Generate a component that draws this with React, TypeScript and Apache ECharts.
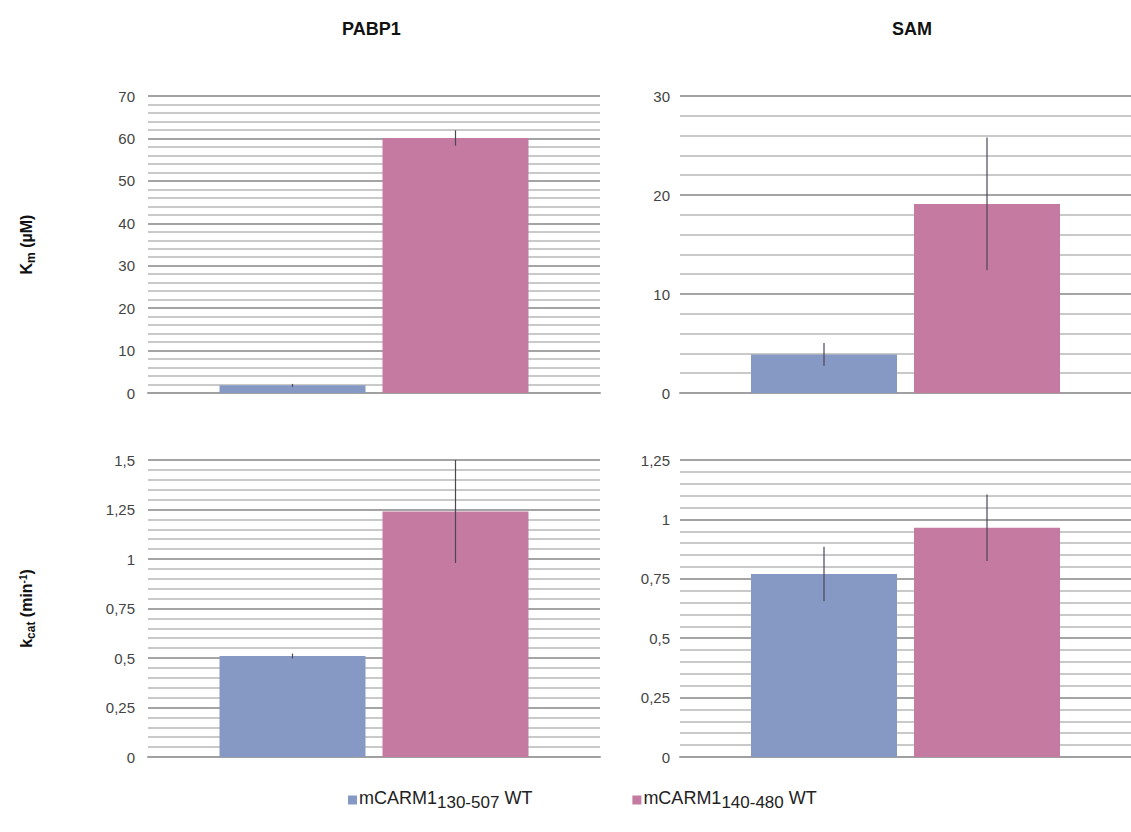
import React, { useEffect, useRef } from "react";
import * as echarts from "echarts";

const groups = ["mCARM1 130-507 WT", "mCARM1 140-480 WT"];
const panelTitles = ["PABP1", "SAM"];
const kmPABP1 = [1.8, 60.1];
const kmPABP1Err = [0.35, 1.8];
const kmSAM = [3.9, 19.1];
const kmSAMErr = [1.15, 6.7];
const kcatPABP1 = [0.51, 1.24];
const kcatPABP1Err = [0.012, 0.26];
const kcatSAM = [0.77, 0.965];
const kcatSAMErr = [0.115, 0.14];
const axisMax = [70, 30, 1.5, 1.25];
const axisInterval = [10, 10, 0.25, 0.25];

const COLORS = ["#8599c4", "#c57aa1"];
const BAR_W = 146;
const BAR_GAP = 17;
const FONT = "Liberation Sans, Arial, Helvetica, sans-serif";

export default function App() {
  const ref = useRef<HTMLDivElement>(null);
  useEffect(() => {
    if (!ref.current) return;
    const chart = echarts.init(ref.current, null, { renderer: "svg" });
    const panels = [
      { vals: kmPABP1, errs: kmPABP1Err },
      { vals: kmSAM, errs: kmSAMErr },
      { vals: kcatPABP1, errs: kcatPABP1Err },
      { vals: kcatSAM, errs: kcatSAMErr },
    ];
    const grids = [
      { left: 148, width: 452, top: 96, height: 297 },
      { left: 680, width: 464, top: 96, height: 297 },
      { left: 148, width: 452, top: 460, height: 297 },
      { left: 680, width: 464, top: 460, height: 297 },
    ];
    const richSub = {
      a: { fontSize: 16, fontWeight: "bold", fontFamily: FONT, color: "#111", lineHeight: 19, verticalAlign: "top" },
      s: { fontSize: 12, fontWeight: "bold", fontFamily: FONT, color: "#111", lineHeight: 12, verticalAlign: "bottom" },
      p: { fontSize: 10, fontWeight: "bold", fontFamily: FONT, color: "#111", lineHeight: 10, verticalAlign: "top" },
    };
    const axisNames = ["{a|K}{s|m}{a| (µM)}", "", "{a|k}{s|cat}{a| (min}{p|-1}{a|)}", ""];
    const xAxis = grids.map((_, i) => ({
      type: "category",
      gridIndex: i,
      data: ["all"],
      axisLabel: { show: false },
      axisTick: { show: false },
      axisLine: { show: true, lineStyle: { color: "#a0a0a0", width: 2 } },
    }));
    const yAxis = grids.map((_, i) => ({
      type: "value",
      gridIndex: i,
      min: 0,
      max: axisMax[i],
      interval: axisInterval[i],
      name: axisNames[i],
      nameLocation: "middle",
      nameRotate: 90,
      nameGap: 111,
      nameTextStyle: { rich: richSub },
      axisLine: { show: false },
      axisTick: { show: false },
      axisLabel: {
        color: "#444",
        fontSize: 15,
        fontFamily: FONT,
        margin: i % 2 === 0 ? 13 : 10,
        formatter: (v: number) => String(v).replace(".", ","),
      },
      splitLine: { show: true, lineStyle: { color: "#a4a4a4", width: 2 } },
      minorTick: { show: false, splitNumber: 5 },
      minorSplitLine: { show: true, lineStyle: { color: "#c9c9c9", width: 2 } },
    }));
    const series: any[] = [];
    panels.forEach((p, i) => {
      groups.forEach((g, k) => {
        series.push({
          type: "bar",
          name: g,
          xAxisIndex: i,
          yAxisIndex: i,
          data: [p.vals[k]],
          barWidth: BAR_W,
          barGap: (BAR_GAP / BAR_W) * 100 + "%",
          itemStyle: { color: COLORS[k] },
        });
      });
      series.push({
        type: "custom",
        name: "err" + i,
        xAxisIndex: i,
        yAxisIndex: i,
        z: 5,
        data: groups.map((_, k) => [0, p.vals[k] - p.errs[k], p.vals[k] + p.errs[k], k]),
        encode: { x: 0, y: [1, 2] },
        renderItem: (params: any, api: any) => {
          const side = api.value(3) === 0 ? -1 : 1;
          const lo = api.coord([0, api.value(1)]);
          const hi = api.coord([0, api.value(2)]);
          const x = lo[0] + side * (BAR_W + BAR_GAP) / 2;
          return {
            type: "line",
            shape: { x1: x, y1: lo[1], x2: x, y2: hi[1] },
            style: { stroke: "#4d4558", lineWidth: 1.2 },
          };
        },
      });
    });

    chart.setOption({
      animation: false,
      backgroundColor: "#ffffff",
      grid: grids,
      xAxis,
      yAxis,
      series,
      legend: {
        data: groups,
        left: 348,
        top: 789,
        padding: 0,
        itemWidth: 9,
        itemHeight: 9,
        itemGap: 100,
        icon: "rect",
        formatter: (name: string) => {
          const parts = name.split(" ");
          return "{a|" + parts[0] + "}{s|" + parts[1] + "}{a| " + parts[2] + "}";
        },
        textStyle: {
          padding: [0, 0, 0, -3],
          rich: {
            a: { fontSize: 18, fontFamily: FONT, color: "#222", lineHeight: 22, verticalAlign: "top" },
            s: { fontSize: 17, fontFamily: FONT, color: "#222", lineHeight: 17, verticalAlign: "bottom" },
          },
        },
      },
      graphic: [
        {
          type: "text",
          left: 373 - 31,
          top: 20,
          style: { text: panelTitles[0], font: "bold 18px " + FONT, fill: "#111" },
        },
        {
          type: "text",
          left: 912 - 20,
          top: 20,
          style: { text: panelTitles[1], font: "bold 18px " + FONT, fill: "#111" },
        },
      ],
    });
    return () => chart.dispose();
  }, []);
  return (
    <div
      ref={ref}
      style={{ position: "fixed", left: 0, top: 0, width: 1131, height: 832 }}
    />
  );
}
